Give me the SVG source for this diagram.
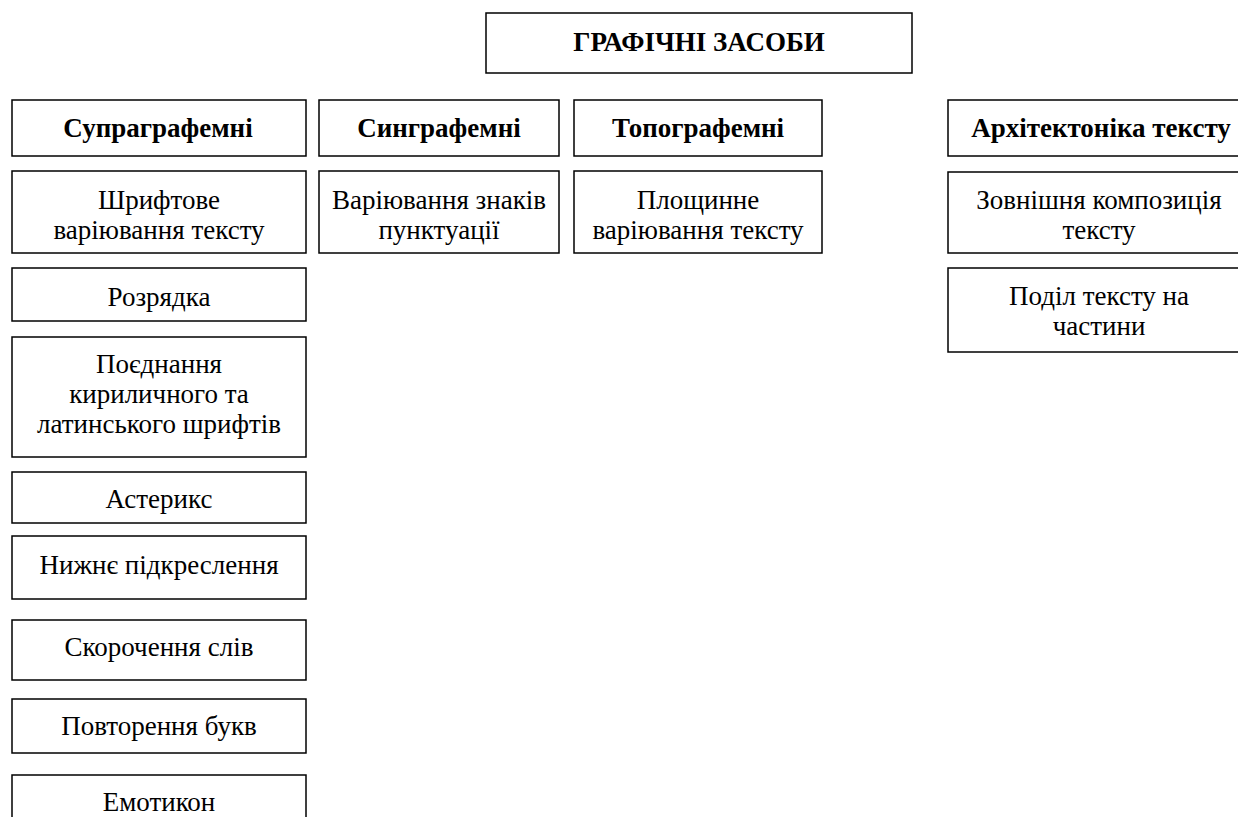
<svg xmlns="http://www.w3.org/2000/svg" width="1238" height="817" viewBox="0 0 1238 817">
<style>
rect{fill:#fff;stroke:#000;stroke-width:1.5}
text{font-family:"Liberation Serif","Times New Roman",serif;font-size:27px;fill:#000;text-anchor:middle}
.b{font-weight:bold}
</style>
<rect x="0" y="0" width="1238" height="817" style="stroke:none"/>
<g id="title"><rect x="486" y="13" width="426" height="60"/><text class="b" x="699" y="51">ГРАФІЧНІ ЗАСОБИ</text></g>
<g id="h1"><rect x="12" y="100" width="294" height="56"/><text class="b" x="158" y="137">Супраграфемні</text></g>
<g id="h2"><rect x="319" y="100" width="240" height="56"/><text class="b" x="439" y="137">Синграфемні</text></g>
<g id="h3"><rect x="574" y="100" width="248" height="56"/><text class="b" x="698" y="137">Топографемні</text></g>
<g id="h4"><rect x="948" y="100" width="302" height="56"/><text class="b" x="1101" y="137">Архітектоніка тексту</text></g>
<g id="n1"><rect x="12" y="171" width="294" height="82"/><text x="159" y="209">Шрифтове</text><text x="159" y="239">варіювання тексту</text></g>
<g id="n2"><rect x="12" y="268" width="294" height="53"/><text x="159" y="306">Розрядка</text></g>
<g id="n3"><rect x="12" y="337" width="294" height="120"/><text x="159" y="373">Поєднання</text><text x="159" y="403">кириличного та</text><text x="159" y="433">латинського шрифтів</text></g>
<g id="n4"><rect x="12" y="472" width="294" height="51"/><text x="159" y="508">Астерикс</text></g>
<g id="n5"><rect x="12" y="536" width="294" height="63"/><text x="159" y="574">Нижнє підкреслення</text></g>
<g id="n6"><rect x="12" y="620" width="294" height="60"/><text x="159" y="656">Скорочення слів</text></g>
<g id="n7"><rect x="12" y="699" width="294" height="54"/><text x="159" y="735">Повторення букв</text></g>
<g id="n8"><rect x="12" y="775" width="294" height="60"/><text x="159" y="811">Емотикон</text></g>
<g id="n9"><rect x="319" y="171" width="240" height="82"/><text x="439" y="209">Варіювання знаків</text><text x="439" y="239">пунктуації</text></g>
<g id="n10"><rect x="574" y="171" width="248" height="82"/><text x="698" y="209">Площинне</text><text x="698" y="239">варіювання тексту</text></g>
<g id="n11"><rect x="948" y="172" width="302" height="81"/><text x="1099" y="209">Зовнішня композиція</text><text x="1099" y="239">тексту</text></g>
<g id="n12"><rect x="948" y="268" width="302" height="84"/><text x="1099" y="305">Поділ тексту на</text><text x="1099" y="335">частини</text></g>
<g id="connectors"></g>
</svg>
